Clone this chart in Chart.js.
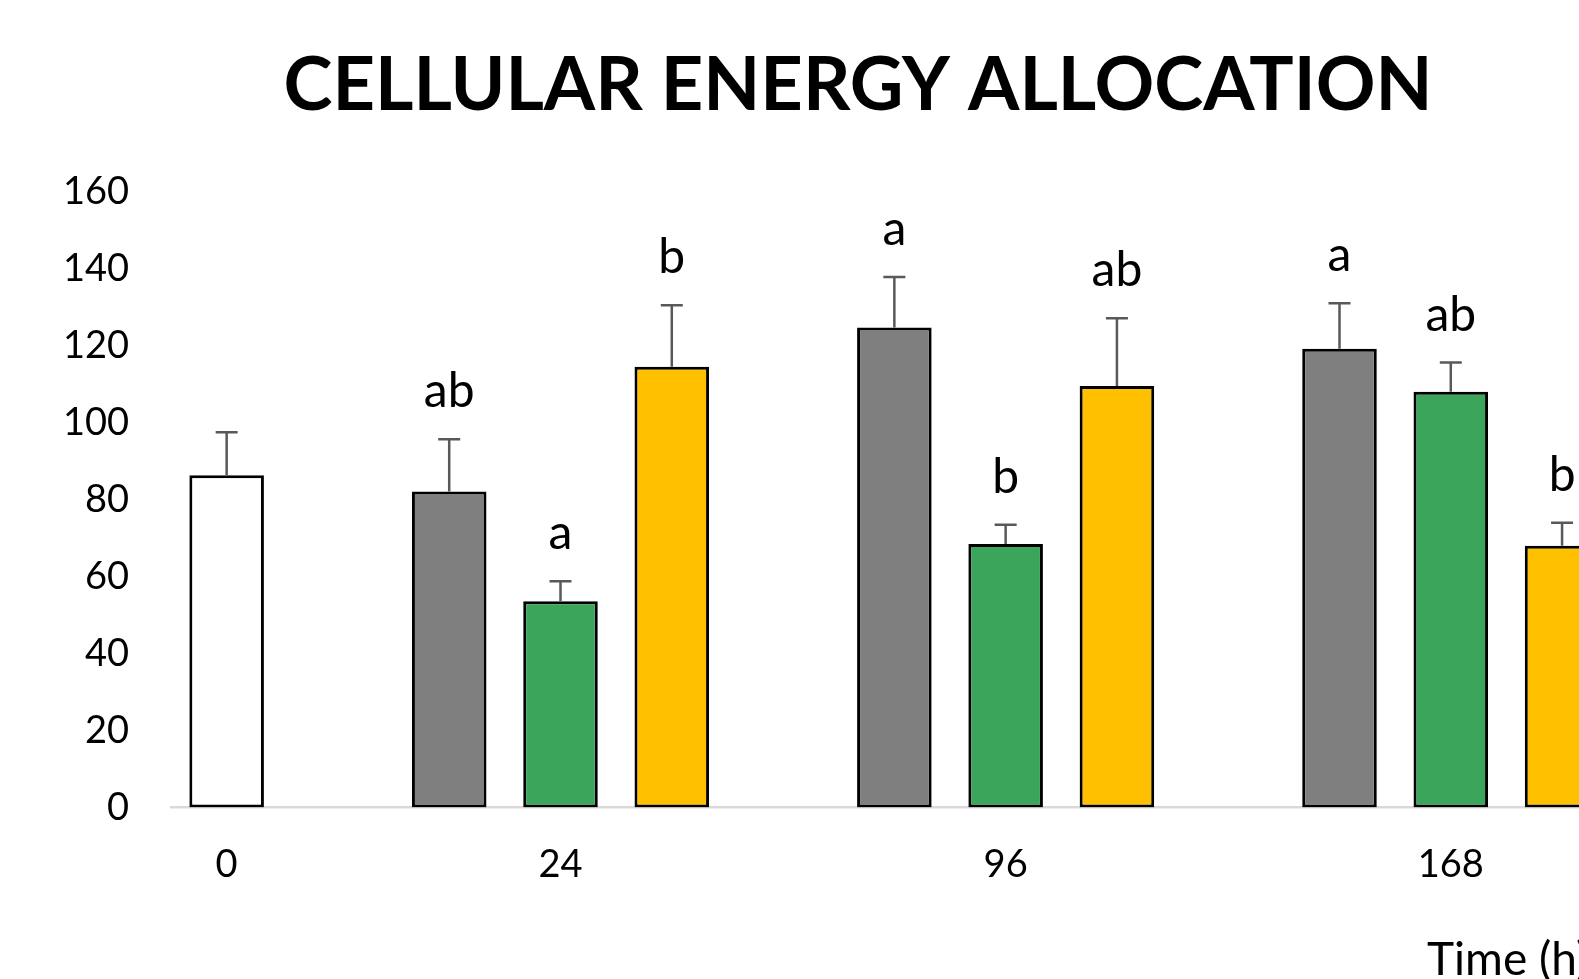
<!DOCTYPE html>
<html>
<head>
<meta charset="utf-8">
<script src="https://cdn.jsdelivr.net/npm/chart.js@4.4.1/dist/chart.umd.min.js"></script>
<style>
    html, body { margin: 0; padding: 0; overflow: hidden; background: #fff; }
    #wrap { position: relative; left: -13px; width: 1742px; height: 979px; }
</style>
</head>
<body>
<div id="wrap"><canvas id="grafico"></canvas></div>
<script>
// Dados
const tempos = ['0', '24', '96', '168'];

const controle = [86.3];
const controleErro = [11.2];

const cinza = [82.1, 124.7, 119.2];
const cinzaErro = [13.6, 13.1, 11.8];
const cinzaLetras = ['ab', 'a', 'a'];

const verde = [53.6, 68.5, 108.0];
const verdeErro = [5.2, 5.0, 7.6];
const verdeLetras = ['a', 'b', 'ab'];

const laranja = [114.5, 109.5, 68.0];
const laranjaErro = [16.0, 17.6, 6.0];
const laranjaLetras = ['b', 'ab', 'b'];

const ticksY = [0, 160, 20];

/* Cada barra ocupa uma "vaga" no eixo x */
const totalVagas = 14;
const labels = new Array(totalVagas).fill('');
labels[0] = tempos[0];
for (let g = 0; g < 3; g++) labels[3 + 4 * g] = tempos[g + 1];

function montar(valores, inicio) {
    const arr = new Array(totalVagas).fill(null);
    valores.forEach((v, g) => { arr[inicio === 0 ? 0 : inicio + 4 * g] = v; });
    return arr;
}

function serie(valores, erros, letras, inicio, cor) {
    return {
        data: montar(valores, inicio),
        erros: montar(erros, inicio),
        letras: montar(letras, inicio),
        backgroundColor: cor,
        borderColor: '#000',
        borderWidth: 3,
        borderSkipped: false,
        grouped: false,
        barPercentage: 0.67,
        categoryPercentage: 1
    };
}

const barrasErro = {
    id: 'barrasErro',
    afterDatasetsDraw(chart) {
        const ctx = chart.ctx;
        const y = chart.scales.y;
        ctx.save();
        chart.data.datasets.forEach((ds, i) => {
            const meta = chart.getDatasetMeta(i);
            meta.data.forEach((bar, j) => {
                if (ds.data[j] == null) return;
                const topo = y.getPixelForValue(ds.data[j] + ds.erros[j]);
                ctx.strokeStyle = '#595959';
                ctx.lineWidth = 2.5;
                ctx.beginPath();
                ctx.moveTo(bar.x, bar.y);
                ctx.lineTo(bar.x, topo);
                ctx.moveTo(bar.x - 11, topo);
                ctx.lineTo(bar.x + 11, topo);
                ctx.stroke();
                if (ds.letras[j]) {
                    ctx.fillStyle = '#000';
                    ctx.font = '48px Lato';
                    ctx.textAlign = 'center';
                    ctx.textBaseline = 'alphabetic';
                    ctx.fillText(ds.letras[j], bar.x, topo - 32);
                }
            });
        });
        // titulo do eixo x
        ctx.fillStyle = '#000';
        ctx.font = '46px Lato';
        ctx.textAlign = 'left';
        ctx.textBaseline = 'alphabetic';
        ctx.fillText('Time (h)', 1440, 975);
        ctx.restore();
    }
};

const ctx = document.getElementById('grafico').getContext('2d');
const grafico = new Chart(ctx, {
    type: 'bar',
    data: {
        labels: labels,
        datasets: [
            serie(controle, controleErro, [''], 0, '#ffffff'),
            serie(cinza, cinzaErro, cinzaLetras, 2, '#7f7f7f'),
            serie(verde, verdeErro, verdeLetras, 3, '#3ca55c'),
            serie(laranja, laranjaErro, laranjaLetras, 4, '#ffc000')
        ]
    },
    options: {
        responsive: true,
        maintainAspectRatio: false,
        animation: false,
        layout: { padding: 0 },
        plugins: {
            legend: { display: false },
            tooltip: { enabled: false },
            title: {
                display: true,
                text: 'CELLULAR ENERGY ALLOCATION',
                color: '#000',
                font: { family: 'Lato', size: 74, weight: 'bold' },
                padding: { top: 41.6, bottom: 61.2 }
            }
        },
        scales: {
            x: {
                grid: { display: false, drawTicks: false },
                border: { display: true, color: '#d9d9d9', width: 2.5 },
                ticks: {
                    autoSkip: false,
                    maxRotation: 0,
                    color: '#000',
                    padding: 34,
                    font: { family: 'Lato', size: 38 }
                },
                afterFit: (s) => { s.height = 171.4; }
            },
            y: {
                min: ticksY[0],
                max: ticksY[1],
                grid: { display: false, drawTicks: false },
                border: { display: false },
                ticks: {
                    stepSize: ticksY[2],
                    color: '#000',
                    padding: 42,
                    font: { family: 'Lato', size: 38 }
                },
                afterFit: (s) => { s.width = 184; }
            }
        }
    },
    plugins: [barrasErro]
});
</script>
</body>
</html>
